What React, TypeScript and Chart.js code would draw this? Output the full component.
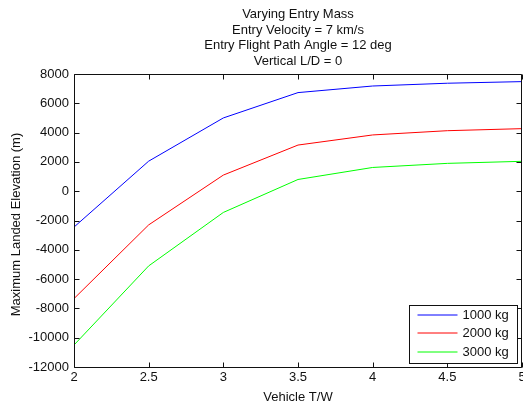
import { useEffect, useRef } from "react";
import { Chart, registerables } from "chart.js";

Chart.register(...registerables);

// Vehicle thrust-to-weight ratio samples
const thrustToWeight = [2, 2.5, 3, 3.5, 4, 4.5, 5];

// Maximum landed elevation (m) for each entry mass
const mass1000kg = [-2450, 2050, 5000, 6730, 7180, 7370, 7480];
const mass2000kg = [-7330, -2300, 1100, 3150, 3840, 4130, 4270];
const mass3000kg = [-10500, -5100, -1450, 800, 1620, 1900, 2040];

const seriesLabels = ["1000 kg", "2000 kg", "3000 kg"];
const seriesColors = ["#0000ff", "#ff0000", "#00ff00"];

const titleLines = [
  "Varying Entry Mass",
  "Entry Velocity = 7 km/s",
  "Entry Flight Path Angle = 12 deg",
  "Vertical L/D = 0",
];
const xAxisLabel = "Vehicle T/W";
const yAxisLabel = "Maximum Landed Elevation (m)";

const xTicks = [2, 2.5, 3, 3.5, 4, 4.5, 5];
const yTicks = [-12000, -10000, -8000, -6000, -4000, -2000, 0, 2000, 4000, 6000, 8000];

const FONT = "'Liberation Sans', Arial, Helvetica, sans-serif";
const FONT_SIZE = 13;
const INK = "#111";

// Axes box with inward tick marks, title block, y label and legend
const matlabFrame = {
  id: "matlabFrame",
  afterDatasetsDraw(chart: any) {
    const { ctx, chartArea: a, scales } = chart;
    const L = Math.round(a.left) + 0.5;
    const R = Math.round(a.right) - 0.5;
    const T = Math.round(a.top) + 0.5;
    const B = Math.round(a.bottom) + 0.5;
    const tick = 5;
    ctx.save();
    ctx.strokeStyle = INK;
    ctx.lineWidth = 1;
    ctx.beginPath();
    ctx.rect(L, T, R - L, B - T);
    for (const v of xTicks) {
      const px = Math.round(scales.x.getPixelForValue(v)) + 0.5;
      ctx.moveTo(px, B);
      ctx.lineTo(px, B - tick);
      ctx.moveTo(px, T);
      ctx.lineTo(px, T + tick);
    }
    for (const v of yTicks) {
      const py = Math.round(scales.y.getPixelForValue(v)) + 0.5;
      ctx.moveTo(L, py);
      ctx.lineTo(L + tick, py);
      ctx.moveTo(R, py);
      ctx.lineTo(R - tick, py);
    }
    ctx.stroke();

    // Title block, centred over the axes
    const cx = (a.left + a.right) / 2;
    ctx.fillStyle = INK;
    ctx.font = `${FONT_SIZE}px ${FONT}`;
    ctx.textAlign = "center";
    ctx.textBaseline = "middle";
    titleLines.forEach((line, i) => {
      ctx.fillText(line, cx, a.top - 59.5 + i * 15.6);
    });

    // Y axis label
    ctx.save();
    ctx.translate(16, (a.top + a.bottom) / 2 + 4);
    ctx.rotate(-Math.PI / 2);
    ctx.fillText(yAxisLabel, 0, 0);
    ctx.restore();

    // Legend, lower right inside the axes
    const boxL = Math.round(a.right) - 113 + 0.5;
    const boxR = Math.round(a.right) - 5 + 0.5;
    const boxT = Math.round(a.bottom) - 62 + 0.5;
    const boxB = Math.round(a.bottom) - 4 + 0.5;
    ctx.fillStyle = "#fff";
    ctx.fillRect(boxL, boxT, boxR - boxL, boxB - boxT);
    ctx.strokeStyle = INK;
    ctx.strokeRect(boxL, boxT, boxR - boxL, boxB - boxT);
    chart.data.datasets.forEach((ds: any, i: number) => {
      const y = Math.round(a.bottom - 52 + i * 18.3);
      ctx.strokeStyle = ds.borderColor;
      ctx.beginPath();
      ctx.moveTo(boxL + 8, y);
      ctx.lineTo(boxL + 48, y);
      ctx.stroke();
      ctx.fillStyle = INK;
      ctx.textAlign = "left";
      ctx.fillText(ds.label, boxL + 53, y + 0.5);
    });
    ctx.restore();
  },
};

export default function App() {
  const canvasRef = useRef<HTMLCanvasElement | null>(null);

  useEffect(() => {
    const canvas = canvasRef.current;
    if (!canvas) return;
    const series = [mass1000kg, mass2000kg, mass3000kg];
    const chart = new Chart(canvas, {
      type: "line",
      data: {
        datasets: series.map((vals, i) => ({
          label: seriesLabels[i],
          data: thrustToWeight.map((x, j) => ({ x, y: vals[j] })),
          borderColor: seriesColors[i],
          backgroundColor: seriesColors[i],
          borderWidth: 1,
          pointRadius: 0,
          tension: 0,
          fill: false,
        })),
      },
      options: {
        responsive: false,
        animation: false,
        events: [],
        layout: { padding: { top: 74, right: 1, left: 0, bottom: 0 } },
        plugins: {
          legend: { display: false },
          title: { display: false },
          tooltip: { enabled: false },
        },
        scales: {
          x: {
            type: "linear",
            min: 2,
            max: 5,
            grid: { display: false, drawTicks: false },
            border: { display: false },
            afterBuildTicks: (s: any) => {
              s.ticks = xTicks.map((v) => ({ value: v }));
            },
            afterFit: (s: any) => {
              s.height = 38;
              s.paddingLeft = 0;
              s.paddingRight = 0;
            },
            ticks: {
              autoSkip: false,
              maxRotation: 0,
              padding: 3,
              color: INK,
              font: { family: FONT, size: FONT_SIZE },
              callback: (v: any) => String(v),
            },
            title: {
              display: true,
              text: xAxisLabel,
              color: INK,
              font: { family: FONT, size: FONT_SIZE },
              padding: { top: 0, bottom: 0 },
            },
          },
          y: {
            type: "linear",
            min: -12000,
            max: 8000,
            grid: { display: false, drawTicks: false },
            border: { display: false },
            afterBuildTicks: (s: any) => {
              s.ticks = yTicks.map((v) => ({ value: v }));
            },
            afterFit: (s: any) => {
              s.width = 74;
              s.paddingTop = 0;
              s.paddingBottom = 0;
            },
            ticks: {
              autoSkip: false,
              padding: 5,
              color: INK,
              font: { family: FONT, size: FONT_SIZE },
              callback: (v: any) => String(v),
            },
          },
        },
      },
      plugins: [matlabFrame],
    });
    return () => chart.destroy();
  }, []);

  return (
    <div style={{ position: "fixed", left: 0, top: 0, width: 523, height: 405, background: "#fff" }}>
      <canvas ref={canvasRef} width={523} height={405} style={{ display: "block" }} />
    </div>
  );
}
